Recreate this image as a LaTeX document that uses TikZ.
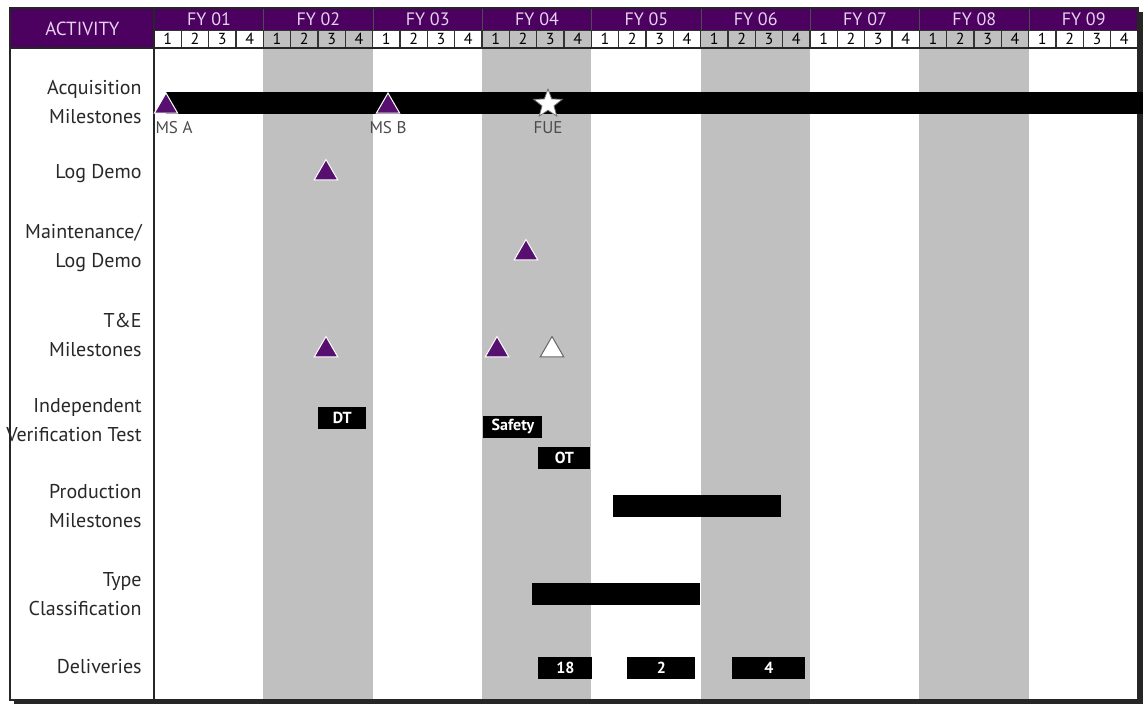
\documentclass[tikz,border=0pt]{standalone}
\usepackage{fontspec}
\setmainfont{PT Sans}
\usetikzlibrary{shapes.geometric, positioning}
\definecolor{hdrpurple}{RGB}{76,0,96}
\definecolor{mspurple}{RGB}{88,16,112}
\definecolor{colgray}{RGB}{192,192,192}
\definecolor{lbltext}{RGB}{40,40,40}
\definecolor{fytext}{RGB}{228,210,238}

\begin{document}
\begin{tikzpicture}[
    x=1pt, y=-1pt,
    thick,
    row label/.style={anchor=east, align=right, text=lbltext, font=\fontsize{20}{29}\selectfont, inner sep=0pt},
    fy node/.style={fill=hdrpurple, draw=black!70, text=fytext, minimum width=109.33pt, minimum height=22pt, inner sep=0pt, anchor=north west, font=\fontsize{18}{18}\selectfont},
    quarter node/.style={draw=black!80, line width=1.3pt, minimum width=27.33pt, minimum height=17pt, inner sep=0pt, font=\fontsize{16}{16}\selectfont},
    ms node/.style={regular polygon, regular polygon sides=3, fill=mspurple, draw=white, line width=1pt, minimum size=27pt, inner sep=0pt},
    open node/.style={ms node, fill=white, draw=black!60},
    bar node/.style={fill=black, text=white, anchor=west, inner sep=0pt, minimum height=22pt, font=\bfseries\fontsize{16}{16}\selectfont},
    ms label/.style={text=black!70, font=\fontsize{17}{17}\selectfont, inner sep=0pt}
]
\useasboundingbox (0,0) rectangle (1143,706);

% Frame and shadow
\fill[black!85] (14,12) rectangle (1143,704);
\fill[white] (10,8) rectangle (1138,700);

% Year columns and header
\node[fill=hdrpurple, text=fytext, minimum width=144pt, minimum height=40pt, inner sep=0pt, anchor=north west, font=\fontsize{19}{19}\selectfont] (activity) at (10,8) {ACTIVITY};
\foreach \yr [count=\i from 0] in {01,02,03,04,05,06,07,08,09} {
    \pgfmathsetmacro{\xa}{154+\i*109.33}
    \pgfmathtruncatemacro{\odd}{mod(\i,2)}
    \ifnum\odd=1
        \fill[colgray] (\xa,48) rectangle ++(109.33,652);
        \def\qfill{colgray}
    \else
        \def\qfill{white}
    \fi
    \node[fy node] (fy\i) at (\xa,8) {FY \yr};
    \foreach \q in {1,...,4}
        \node[quarter node, fill=\qfill] (q\i-\q) at (\xa+\q*27.33-13.67,39) {\q};
}
\draw[black!85, line width=1.5pt] (10,48) -- (1138,48);
\draw[black!85, line width=1.5pt] (154,8) -- (154,700);
\draw[black!85, line width=1.5pt] (10,8) rectangle (1138,700);

% Row labels
\node[row label] (acqlbl) at (142,102.5) {Acquisition\\Milestones};
\node[row label] (loglbl) at (142,174) {Log Demo};
\node[row label] (mntlbl) at (142,247.5) {Maintenance/\\Log Demo};
\node[row label] (telbl) at (142,334.5) {T\&E\\Milestones};
\node[row label] (ivtlbl) at (142,420) {Independent\\Verification Test};
\node[row label] (prodlbl) at (142,506.5) {Production\\Milestones};
\node[row label] (typelbl) at (142,594.5) {Type\\Classification};
\node[row label] (dellbl) at (142,667) {Deliveries};

% Acquisition milestones
\node[bar node, minimum width=977pt] (acqbar) at (166,103) {};
\node[ms node] (msa) at (166,106.5) {};
\node[ms node] (msb) at (388,106.5) {};
\node[star, star points=5, star point ratio=2.4, fill=white, draw=black!55, line width=0.8pt, minimum size=30pt, inner sep=0pt] (fue) at (548,104) {};
\node[ms label] (msalbl) at (174,128) {MS A};
\node[ms label] (msblbl) at (388,128) {MS B};
\node[ms label] (fuelbl) at (548,128) {FUE};

% Demos and T&E
\node[ms node] (logdemo) at (326,173) {};
\node[ms node] (mntdemo) at (526,253) {};
\node[ms node] (te1) at (326,350) {};
\node[ms node] (te2) at (497,350) {};
\node[open node] (te3) at (552,350) {};

% Tests
\node[bar node, minimum width=48pt] (dt) at (318,417.5) {DT};
\node[bar node, minimum width=59pt] (safety) at (483,426.5) {Safety};
\node[bar node, minimum width=52pt] (ot) at (538,458) {OT};

% Production, type classification, deliveries
\node[bar node, minimum width=168pt] (prod) at (613,505.5) {};
\node[bar node, minimum width=168pt] (typecl) at (532,593.5) {};
\node[bar node, minimum width=54pt] (del18) at (538,668) {18};
\node[bar node, minimum width=68pt] (del2) at (627,668) {2};
\node[bar node, minimum width=73pt] (del4) at (732,668) {4};

\end{tikzpicture}
\end{document}
